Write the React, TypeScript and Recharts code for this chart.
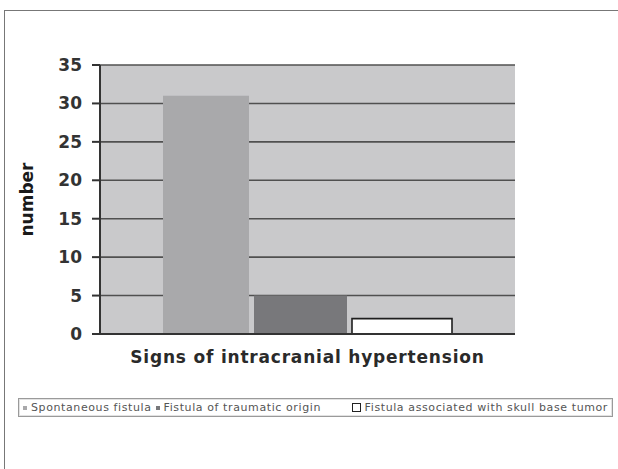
import React from 'react';
import { BarChart, Bar, XAxis, YAxis, CartesianGrid } from 'recharts';

const categories = ['Signs of intracranial hypertension'];
const seriesNames = [
  'Spontaneous fistula',
  'Fistula of traumatic origin',
  'Fistula associated with skull base tumor',
];
const seriesKeys = ['spontaneous', 'traumatic', 'tumor'];
const spontaneous = [31];
const traumatic = [5];
const tumor = [2];
const yTicks = [0, 5, 10, 15, 20, 25, 30, 35];

const seriesFill = ['#a9a9ab', '#78787b', '#ffffff'];
const seriesStroke = ['none', 'none', '#1e1e1e'];
const seriesWidth = [86, 93, 100];

const data = categories.map((name, i) => ({
  name,
  spontaneous: spontaneous[i],
  traumatic: traumatic[i],
  tumor: tumor[i],
}));

const font = '"DejaVu Sans", Verdana, sans-serif';

function YLabel(props: any) {
  const vb = props.viewBox || {};
  const cy = vb.y + vb.height / 2;
  return (
    <text
      x={27}
      y={cy}
      transform={`rotate(-90, 27, ${cy})`}
      textAnchor="middle"
      dominantBaseline="central"
      fontFamily={font}
      fontWeight="bold"
      fontSize={17}
      fill="#1a1a1a"
    >
      number
    </text>
  );
}

function Legendbox() {
  return (
    <div
      style={{
        position: 'absolute',
        left: 18,
        top: 398,
        width: 593,
        height: 17,
        border: '1px solid #9a9a9a',
        boxShadow: 'inset 0 0 0 1px #e2e2e2',
        display: 'flex',
        alignItems: 'center',
        fontFamily: font,
        fontSize: 11,
        color: '#555',
        whiteSpace: 'nowrap',
        letterSpacing: 0.6,
      }}
    >
      {seriesNames.map((n, i) => (
        <span
          key={seriesKeys[i]}
          style={{
            display: 'flex',
            alignItems: 'center',
            marginLeft: i === 2 ? 'auto' : 4,
            marginRight: i === 2 ? 4 : 0,
          }}
        >
          <span
            style={{
              display: 'inline-block',
              width: i === 2 ? 7 : 4,
              height: i === 2 ? 7 : 4,
              background: seriesFill[i],
              border: i === 2 ? '1px solid #222' : 'none',
              marginRight: 4,
            }}
          />
          {n}
        </span>
      ))}
    </div>
  );
}

export default function App() {
  return (
    <div style={{ position: 'absolute', left: 0, top: 0, width: 618, height: 469, background: '#fff' }}>
      <div
        style={{
          position: 'absolute',
          left: 4,
          top: 10,
          right: 0,
          bottom: 0,
          borderLeft: '1.5px solid #777',
          borderTop: '1.5px solid #777',
        }}
      />
      <div style={{ position: 'absolute', left: 0, top: 0 }}>
        <BarChart
          width={618}
          height={469}
          data={data}
          margin={{ top: 65, right: 103, left: 0, bottom: 0 }}
          barGap={5}
        >
          <CartesianGrid vertical={false} fill="#c9c9cb" stroke="#505050" strokeWidth={1.6} />
          <XAxis
            dataKey="name"
            height={135}
            tick={false}
            tickLine={false}
            axisLine={{ stroke: '#333', strokeWidth: 2 }}
            label={{
              value: categories[0],
              position: 'insideTop',
              offset: 17,
              fontFamily: font,
              fontWeight: 'bold',
              fontSize: 17,
              letterSpacing: 0.8,
              fill: '#2a2a2a',
            }}
          />
          <YAxis
            width={100}
            domain={[0, 35]}
            ticks={yTicks}
            interval={0}
            tickSize={8}
            tickMargin={10}
            axisLine={{ stroke: '#333', strokeWidth: 2 }}
            tickLine={{ stroke: '#333', strokeWidth: 2 }}
            tick={{ fontFamily: font, fontWeight: 'bold', fontSize: 17, fill: '#333' }}
            label={<YLabel />}
          />
          <YAxis
            yAxisId="r"
            orientation="right"
            width={0}
            domain={[0, 35]}
            tick={false}
            tickLine={false}
            axisLine={{ stroke: '#444', strokeWidth: 2 }}
          />
          {seriesKeys.map((k, i) => (
            <Bar
              key={k}
              dataKey={k}
              name={seriesNames[i]}
              fill={seriesFill[i]}
              stroke={seriesStroke[i]}
              strokeWidth={1.6}
              barSize={seriesWidth[i]}
              isAnimationActive={false}
            />
          ))}
        </BarChart>
      </div>
      <Legendbox />
    </div>
  );
}
